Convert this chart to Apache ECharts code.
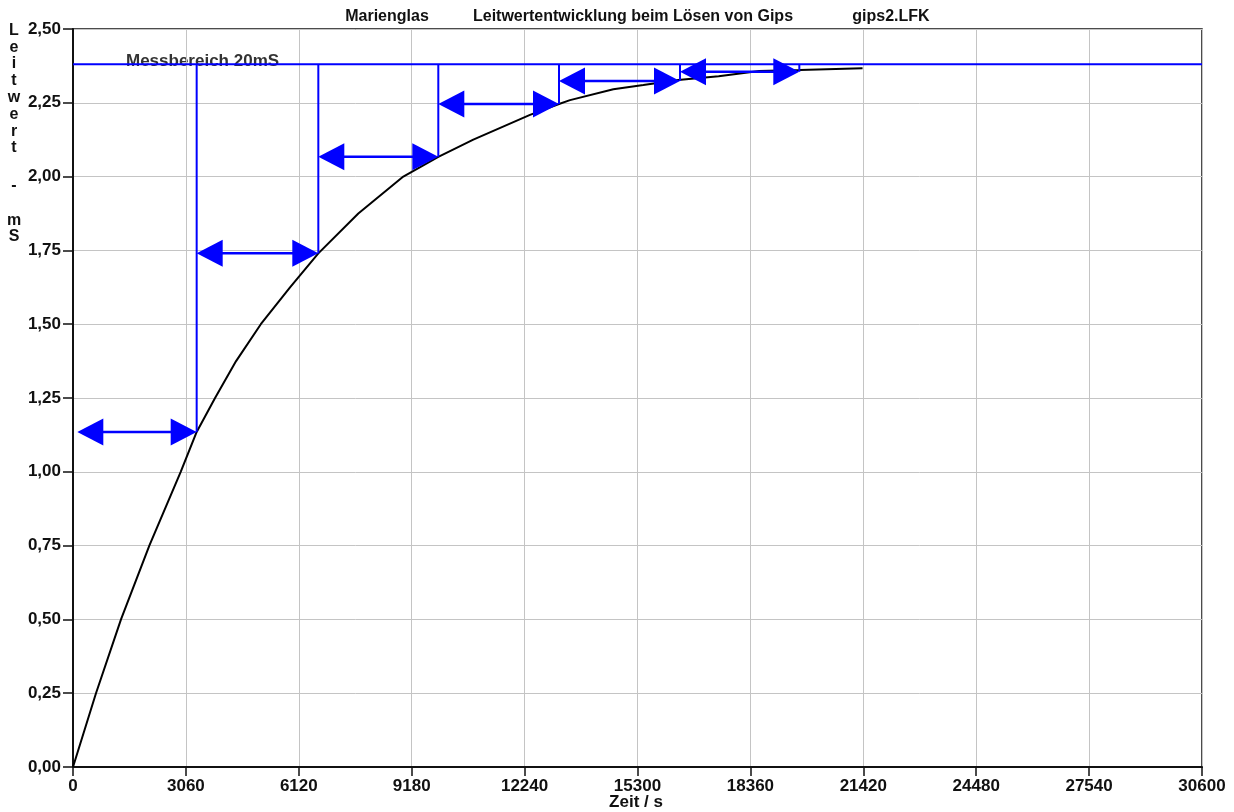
<!DOCTYPE html>
<html>
<head>
<meta charset="utf-8">
<script src="https://cdn.jsdelivr.net/npm/echarts@6/dist/echarts.min.js"></script>
<style>
html,body{margin:0;padding:0;background:#fff;}
#chart{width:1234px;height:812px;}
</style>
</head>
<body>
<div id="chart"></div>
<script>
// ---- data ----
const xTicks = [0, 3060, 6120, 9180, 12240, 15300, 18360, 21420, 24480, 27540, 30600];
const yTicks = [0, 0.25, 0.5, 0.75, 1.0, 1.25, 1.5, 1.75, 2.0, 2.25, 2.5];

// conductance curve (time / s, conductance / mS)
const curveTime = [0, 623, 1301, 2069, 2919, 3352, 3850, 4420, 5090, 5882, 6649, 7733, 8953,
  9901, 10850, 12386, 13172, 13471, 14645, 15458, 16400, 17500, 18600, 19700, 21400];
const curveValue = [0, 0.25, 0.50, 0.75, 1.00, 1.135, 1.25, 1.375, 1.50, 1.625, 1.740, 1.875, 2.00,
  2.067, 2.125, 2.209, 2.246, 2.259, 2.296, 2.310, 2.327, 2.340, 2.358, 2.361, 2.367];

// measuring range line
const rangeLevel = 2.381;
const rangeLabel = 'Messbereich 20mS';

// double arrows (half-value intervals)
const arrowStart = [117, 3352, 6649, 9901, 13172, 16452];
const arrowEnd   = [3352, 6649, 9901, 13172, 16452, 19686];
const arrowLevel = [1.135, 1.740, 2.067, 2.246, 2.324, 2.355];

const titleParts = ['Marienglas', 'Leitwertentwicklung beim Lösen von Gips', 'gips2.LFK'];
const yLabelChars = ['L', 'e', 'i', 't', 'w', 'e', 'r', 't', '-', 'm', 'S'];
const xAxisName = 'Zeit / s';

// ---- chart ----
const FONT = '"Liberation Sans", Arial, sans-serif';
const chart = echarts.init(document.getElementById('chart'));

const curveData = curveTime.map((t, i) => [t, curveValue[i]]);
const arrowData = arrowStart.map((s, i) => [s, arrowEnd[i], arrowLevel[i], rangeLevel]);

const blue = '#0000ff';
const HEAD_L = 26, HEAD_H = 27;

const yCharY = [31, 48, 64, 81, 98, 115, 132, 148, 186, 221, 237];

const graphics = [];
const titleX = [387, 633, 891];
titleParts.forEach((t, i) => graphics.push({
  type: 'text', x: titleX[i], y: 17, z: 0,
  style: { text: t, font: 'bold 16px ' + FONT, fill: '#111', align: 'center', verticalAlign: 'middle' }
}));
yLabelChars.forEach((c, i) => graphics.push({
  type: 'text', x: 14, y: yCharY[i], z: 0,
  style: { text: c, font: 'bold 16px ' + FONT, fill: '#111', align: 'center', verticalAlign: 'middle' }
}));
graphics.push({
  type: 'text', x: 636, y: 802, z: 0,
  style: { text: xAxisName, font: 'bold 17px ' + FONT, fill: '#111', align: 'center', verticalAlign: 'middle' }
});
graphics.push({
  type: 'text', x: 126, y: 61, z: 0,
  style: { text: rangeLabel, font: 'bold 17px ' + FONT, fill: '#333', align: 'left', verticalAlign: 'middle' }
});

const option = {
  animation: false,
  backgroundColor: '#fff',
  grid: {
    left: 73, right: 32, top: 29, bottom: 45,
    show: true, borderColor: '#111', borderWidth: 1.5, backgroundColor: 'transparent'
  },
  xAxis: {
    type: 'value',
    min: xTicks[0], max: xTicks[xTicks.length - 1], interval: xTicks[1] - xTicks[0],
    axisLine: { show: true, lineStyle: { color: '#111', width: 2 } },
    axisTick: { show: true, length: 9, lineStyle: { color: '#111', width: 1.5 } },
    axisLabel: { show: true, margin: 11, color: '#111', fontFamily: FONT, fontWeight: 'bold', fontSize: 17,
      showMinLabel: true, showMaxLabel: true, formatter: v => String(v) },
    splitLine: { show: true, lineStyle: { color: '#c4c4c4', width: 1 } }
  },
  yAxis: {
    type: 'value',
    min: yTicks[0], max: yTicks[yTicks.length - 1], interval: yTicks[1] - yTicks[0],
    axisLine: { show: true, lineStyle: { color: '#111', width: 2 } },
    axisTick: { show: true, length: 10, lineStyle: { color: '#111', width: 1.5 } },
    axisLabel: { show: true, margin: 12, color: '#111', fontFamily: FONT, fontWeight: 'bold', fontSize: 17,
      formatter: v => v.toFixed(2).replace('.', ',') },
    splitLine: { show: true, lineStyle: { color: '#c4c4c4', width: 1 } }
  },
  graphic: graphics,
  series: [
    {
      type: 'line', data: curveData, showSymbol: false, symbol: 'none', z: 5,
      lineStyle: { color: '#000', width: 2 }, silent: true
    },
    {
      type: 'line', data: [[xTicks[0], rangeLevel], [xTicks[xTicks.length - 1], rangeLevel]],
      showSymbol: false, symbol: 'none', z: 6, lineStyle: { color: blue, width: 2 }, silent: true
    },
    {
      type: 'custom', z: 7, silent: true,
      data: arrowData,
      renderItem: function (params, api) {
        const p1 = api.coord([api.value(0), api.value(2)]);
        const p2 = api.coord([api.value(1), api.value(2)]);
        const top = api.coord([api.value(1), api.value(3)]);
        return {
          type: 'group',
          children: [
            { type: 'line', shape: { x1: p2[0], y1: top[1], x2: p2[0], y2: p2[1] },
              style: { stroke: blue, lineWidth: 2 } },
            { type: 'line', shape: { x1: p1[0] + 4, y1: p1[1], x2: p2[0] - 4, y2: p2[1] },
              style: { stroke: blue, lineWidth: 2.5 } },
            { type: 'polygon', shape: { points: [[p1[0], p1[1]], [p1[0] + HEAD_L, p1[1] - HEAD_H / 2], [p1[0] + HEAD_L, p1[1] + HEAD_H / 2]] },
              style: { fill: blue } },
            { type: 'polygon', shape: { points: [[p2[0], p2[1]], [p2[0] - HEAD_L, p2[1] - HEAD_H / 2], [p2[0] - HEAD_L, p2[1] + HEAD_H / 2]] },
              style: { fill: blue } }
          ]
        };
      }
    }
  ]
};
chart.setOption(option);
</script>
</body>
</html>
